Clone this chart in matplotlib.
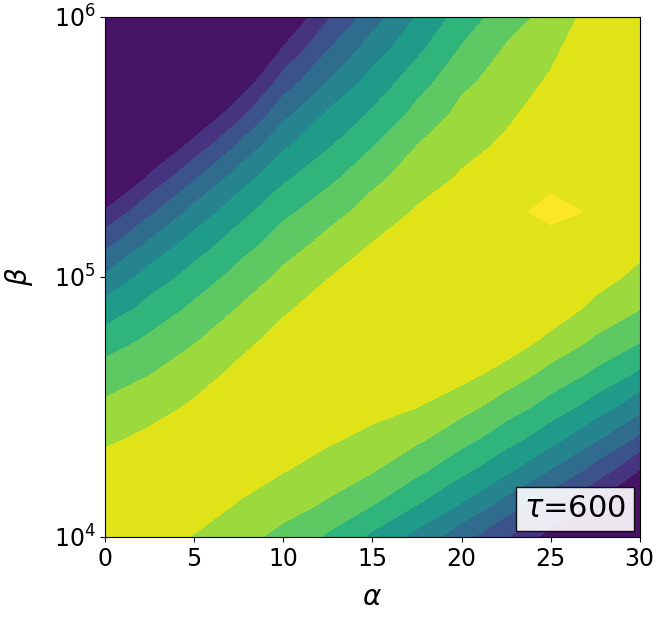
import numpy as np
import matplotlib
matplotlib.use('Agg')
import matplotlib.pyplot as plt
from matplotlib.offsetbox import AnchoredText
from matplotlib.ticker import NullLocator

# grid: alpha columns, log10(beta) rows
alpha = [0, 2.5, 5, 7.5, 10, 12.5, 15, 17.5, 20, 22.5, 25, 27.5, 30]
beta_exp = [4.0, 4.125, 4.25, 4.375, 4.5, 4.625, 4.75, 4.875, 5.0,
            5.125, 5.25, 5.375, 5.5, 5.625, 5.75, 5.875, 6.0]

# field value at each (beta row, alpha column); band edges sit at the levels below
fitness = [
    [10.08, 9.59, 8.94, 8.33, 7.72, 6.85, 5.8, 4.69, 3.38, 2.06, 0.57, -0.89, -2.97],
    [10.09, 10.26, 9.6, 8.93, 8.42, 7.88, 7.04, 6.02, 4.94, 3.63, 2.31, 0.86, -1.05],
    [9.45, 9.84, 10.27, 9.52, 9.02, 8.54, 8.03, 7.2, 6.2, 5.15, 3.88, 2.56, 0.89],
    [8.82, 9.22, 9.74, 10.12, 9.58, 9.15, 8.70, 8.17, 7.36, 6.4, 5.35, 4.13, 2.75],
    [8.19, 8.60, 9.14, 9.86, 10.16, 9.76, 9.38, 9.02, 8.36, 7.52, 6.6, 5.55, 4.36],
    [7.44, 7.98, 8.55, 9.26, 10.04, 10.37, 10.05, 9.84, 9.36, 8.57, 7.68, 6.8, 5.81],
    [6.52, 7.21, 7.94, 8.66, 9.44, 10.22, 10.73, 10.68, 10.36, 9.65, 8.68, 7.84, 7.03],
    [5.41, 6.35, 7.21, 8.06, 8.83, 9.59, 10.28, 10.68, 10.81, 10.74, 9.68, 8.68, 8.01],
    [4.14, 5.40, 6.38, 7.34, 8.22, 8.95, 9.65, 10.15, 10.39, 10.62, 10.68, 9.49, 8.70],
    [2.71, 4.19, 5.46, 6.52, 7.53, 8.31, 9.03, 9.62, 9.97, 10.26, 9.2, 10.3, 9.39],
    [1.08, 2.78, 4.31, 5.62, 6.75, 7.58, 8.41, 9.09, 9.54, 9.9, 15.87, 11.88, 10.08],
    [-0.55, 1.24, 2.93, 4.52, 5.85, 6.76, 7.75, 8.55, 9.12, 9.54, 10.32, 11.5, 10.77],
    [-2.17, -0.26, 1.39, 3.16, 4.86, 5.91, 6.97, 8.02, 8.69, 9.17, 9.92, 11.1, 11.45],
    [-3.8, -1.76, -0.12, 1.64, 3.69, 5.13, 6.13, 7.29, 8.27, 8.81, 9.49, 10.69, 11.8],
    [-5.42, -3.26, -1.62, 0.15, 2.42, 4.02, 5.36, 6.53, 7.76, 8.45, 9.13, 10.28, 11.4],
    [-7.05, -4.76, -3.12, -1.33, 1.10, 2.95, 4.48, 5.77, 7.08, 8.09, 8.73, 9.87, 11.0],
    [-8.67, -6.26, -4.62, -2.82, -0.2, 1.85, 3.51, 5.05, 6.41, 7.51, 8.33, 9.46, 10.58],
]
levels = [-20, 1, 2, 3, 4, 5, 6, 7, 8, 9, 13]
tau = 600

beta = 10.0 ** np.array(beta_exp)
# ten bands taken from viridis at their centres, plus the top colour for the peak
band_colors = [plt.cm.viridis((i + 0.5) / 10) for i in range(10)] + [plt.cm.viridis(1.0)]

fig, ax = plt.subplots(figsize=(6.65, 6.2), dpi=100)
fig.subplots_adjust(left=0.158, right=0.962, bottom=0.134, top=0.973)

ax.contourf(alpha, beta, np.array(fitness), levels=levels, colors=band_colors, extend='max')
ax.set_yscale('log')
ax.set_ylim(1e4, 1e6)
ax.set_xlim(0, 30)
ax.yaxis.set_minor_locator(NullLocator())
ax.set_xticks(range(0, 31, 5))
ax.tick_params(labelsize=17)
ax.set_xlabel(r'$\alpha$', fontsize=20, labelpad=9)
ax.set_ylabel(r'$\beta$', fontsize=20, labelpad=13)

at = AnchoredText(r'$\tau$=%d' % tau, loc='lower right', prop=dict(size=22),
                  frameon=True, borderpad=0.2, pad=0.25)
at.patch.set_facecolor('white')
at.patch.set_alpha(0.9)
ax.add_artist(at)

fig.savefig('out.png', dpi=100)
